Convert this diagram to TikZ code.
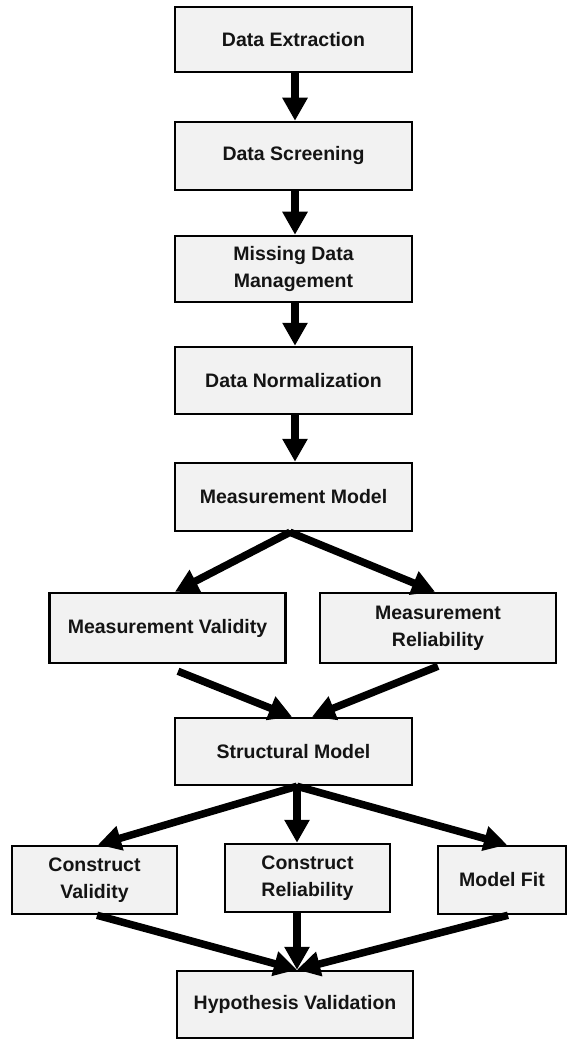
\documentclass[tikz,border=0pt]{standalone}
\usepackage{fontspec}
\setmainfont{Liberation Sans}
\usetikzlibrary{arrows.meta,calc}
\definecolor{boxfill}{HTML}{F2F2F2}
\definecolor{ink}{HTML}{141414}
\tikzset{
  stepbox/.style={draw=black, line width=2.5pt, fill=boxfill, rectangle,
    align=center, inner sep=0pt, text=ink,
    font=\fontsize{19.5}{27}\selectfont\bfseries},
  flow/.style={line width=7.5pt, draw=black,
    -{Triangle[width=24pt,length=23pt]}},
}
\begin{document}
\begin{tikzpicture}[x=1pt,y=-1pt]
\useasboundingbox (0,0) rectangle (567,1040);
\fill[white] (0,0) rectangle (567,1040);

% main column
\node[stepbox, minimum width=237pt, minimum height=65pt] (de) at (293.5,39.5) {Data Extraction};
\node[stepbox, minimum width=237pt, minimum height=68pt] (ds) at (293.5,156) {Data Screening};
\node[stepbox, minimum width=237pt, minimum height=66pt] (md) at (293.5,269) {Missing Data\\Management};
\node[stepbox, minimum width=237pt, minimum height=67pt] (dn) at (293.5,380.5) {Data Normalization};
\node[stepbox, minimum width=237pt, minimum height=68pt] (mm) at (293.5,497) {Measurement Model};

% measurement branch
\node[stepbox, minimum width=236pt, minimum height=70pt] (mv) at (167.5,628) {Measurement Validity};
\node[stepbox, minimum width=236pt, minimum height=70pt] (mr) at (438,628) {Measurement\\Reliability};

\node[stepbox, minimum width=237pt, minimum height=67pt] (sm) at (293.5,751.5) {Structural Model};

% structural branch
\node[stepbox, minimum width=165pt, minimum height=68pt] (cv) at (94.5,880) {Construct\\Validity};
\node[stepbox, minimum width=165pt, minimum height=68pt] (cr) at (307.5,878) {Construct\\Reliability};
\node[stepbox, minimum width=128pt, minimum height=68pt] (mf) at (502,880) {Model Fit};

\node[stepbox, minimum width=236pt, minimum height=67pt] (hv) at (295,1004.5) {Hypothesis Validation};

% connectors
\draw[flow] ($(de.south)+(1.5,0)$) -- ($(ds.north)+(1.5,0)$);
\draw[flow] ($(ds.south)+(1.5,0)$) -- ($(md.north)+(1.5,0)$);
\draw[flow] ($(md.south)+(1.5,0)$) -- ($(dn.north)+(1.5,0)$);
\draw[flow] ($(dn.south)+(1.5,0)$) -- ($(mm.north)+(1.5,0)$);

\draw[flow] ($(mm.south)+(-3.5,0)$) -- ($(mv.north)+(7.5,0)$);
\draw[flow] ($(mm.south)+(-3.5,0)$) -- ($(mr.north)+(-3,0)$);

\draw[flow] ($(mv.south)+(10.5,7)$) -- ($(sm.north)+(-1.5,0)$);
\draw[flow] ($(mr.south)+(0,2)$) -- ($(sm.north)+(18.5,0)$);

\draw[flow] ($(sm.south)+(3.5,0)$) -- ($(cv.north)+(3.5,0)$);
\draw[flow] ($(sm.south)+(3.5,0)$) -- ($(cr.north)+(-10.5,0)$);
\draw[flow] ($(sm.south)+(3.5,0)$) -- ($(mf.north)+(5,0)$);

\draw[flow] ($(cv.south)+(2.5,0)$) -- ($(hv.north)+(2,0)$);
\draw[flow] ($(cr.south)+(-10.5,0)$) -- ($(hv.north)+(2,0)$);
\draw[flow] ($(mf.south)+(6,0)$) -- ($(hv.north)+(2,0)$);
\end{tikzpicture}
\end{document}
